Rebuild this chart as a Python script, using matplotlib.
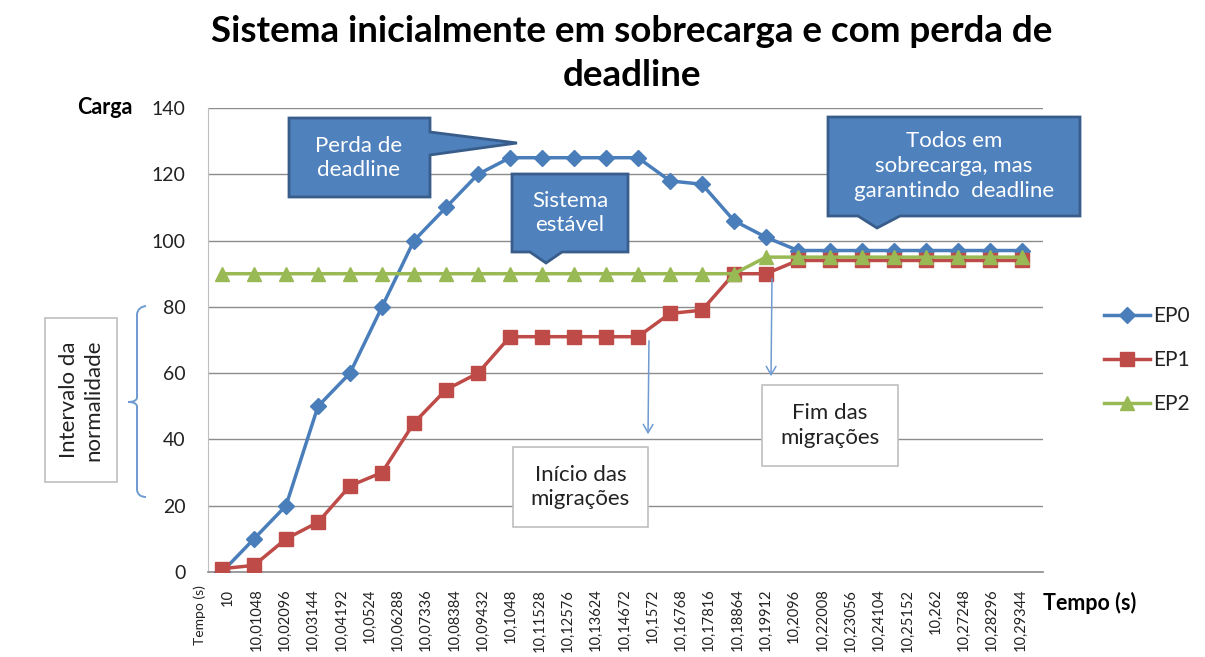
import matplotlib
matplotlib.use("Agg")
import matplotlib.pyplot as plt
from matplotlib.patches import Polygon, Rectangle, PathPatch, FancyArrowPatch
from matplotlib.path import Path

plt.rcParams['font.family'] = ['Lato', 'DejaVu Sans']

# category labels shown on the time axis (first one is the header cell "Tempo (s)")
tick_labels = ["Tempo (s)", "10", "10,01048", "10,02096", "10,03144", "10,04192", "10,0524",
               "10,06288", "10,07336", "10,08384", "10,09432", "10,1048", "10,11528",
               "10,12576", "10,13624", "10,14672", "10,1572", "10,16768", "10,17816",
               "10,18864", "10,19912", "10,2096", "10,22008", "10,23056", "10,24104",
               "10,25152", "10,262", "10,27248", "10,28296", "10,29344"]
ep0 = [0, 10, 20, 50, 60, 80, 100, 110, 120, 125, 125, 125, 125, 125,
       118, 117, 106, 101, 97, 97, 97, 97, 97, 97, 97, 97]
ep1 = [1, 2, 10, 15, 26, 30, 45, 55, 60, 71, 71, 71, 71, 71,
       78, 79, 90, 90, 94, 94, 94, 94, 94, 94, 94, 94]
ep2 = [90, 90, 90, 90, 90, 90, 90, 90, 90, 90, 90, 90, 90, 90,
       90, 90, 90, 95, 95, 95, 95, 95, 95, 95, 95, 95]
yticks = [0, 20, 40, 60, 80, 100, 120, 140]

W, H = 1205, 657
fig = plt.figure(figsize=(W / 100, H / 100), dpi=100)

def fx(x):
    return x / W

def fy(y):
    return 1 - y / H

AX_L, AX_R, AX_B, AX_T = 208, 1043, 572, 108
ax = fig.add_axes([fx(AX_L), fy(AX_B), fx(AX_R) - fx(AX_L), fy(AX_T) - fy(AX_B)])
x = list(range(len(ep0)))
c0, c1, c2 = '#4A7EBB', '#BE4B48', '#98B954'
ax.plot(x, ep0, color=c0, lw=2.5, marker='D', ms=8, label='EP0', zorder=3)
ax.plot(x, ep1, color=c1, lw=2.5, marker='s', ms=10.5, label='EP1', zorder=4)
ax.plot(x, ep2, color=c2, lw=2.5, marker='^', ms=10, label='EP2', zorder=5)

ax.set_xticks([])
# data points: first at px 222, spacing 32 px
ax.set_xlim(-(222 - AX_L) / 32, (AX_R - 222) / 32)
ax.set_ylim(0, 140)
ax.set_yticks(yticks)
ax.tick_params(axis='y', length=0, pad=16, labelsize=14)
ax.yaxis.grid(True, color='#8C8C8C', lw=1)
ax.set_axisbelow(True)
for s in ['top', 'right']:
    ax.spines[s].set_visible(False)
ax.spines['left'].set_color('#BFBFBF')
ax.spines['bottom'].set_color('#8C8C8C')
ax.spines['bottom'].set_linewidth(1.2)
for t in ax.get_yticklabels():
    t.set_color('#222222')

# category label axis: label 0 at px 199.7, spacing 28.3 px
ax2 = ax.twiny()
ax2.xaxis.set_ticks_position('bottom')
ax2.xaxis.set_label_position('bottom')
ax2.set_xticks(range(1, len(tick_labels)))
ax2.set_xticklabels(tick_labels[1:], rotation=90, fontsize=10.5, color='#222222')
ax2.set_xlim((AX_L - 199.7) / 28.3, (AX_R - 199.7) / 28.3)
ax2.tick_params(axis='x', length=0, pad=12)
for s in ax2.spines.values():
    s.set_visible(False)
# header label lies left of the plot area
fig.text(fx(199.7), fy(585), tick_labels[0], ha='center', va='top', rotation=90,
         fontsize=10, color='#222222')

fig.text(fx(632), fy(32), "Sistema inicialmente em sobrecarga e com perda de",
         ha='center', va='center', fontsize=26.5, fontweight='bold')
fig.text(fx(632), fy(76), "deadline",
         ha='center', va='center', fontsize=26.5, fontweight='bold')
fig.text(fx(105), fy(108), "Carga", ha='center', va='center', fontsize=15.5, fontweight='bold')
fig.text(fx(1090), fy(603), "Tempo (s)", ha='center', va='center', fontsize=15.5, fontweight='bold')

h, l = ax.get_legend_handles_labels()
leg = fig.legend(h, l, loc='center left', bbox_to_anchor=(fx(1094), fy(360)), frameon=False,
                 fontsize=15, handlelength=2.2, labelspacing=1.15, handletextpad=0.15,
                 borderpad=0)
for t in leg.get_texts():
    t.set_color('#222222')

blue_fill, blue_edge = '#4F81BD', '#385D8A'

def callout(pts, text, cx, cy):
    poly = Polygon([(fx(px), fy(py)) for px, py in pts], closed=True,
                   transform=fig.transFigure, facecolor=blue_fill, edgecolor=blue_edge,
                   lw=2, zorder=10)
    fig.patches.append(poly)
    fig.text(fx(cx), fy(cy), text, ha='center', va='center', color='white',
             fontsize=16, zorder=11, linespacing=1.3)

callout([(289, 118), (430, 118), (430, 132), (517, 143), (430, 155), (430, 197), (289, 197)],
        "Perda de\ndeadline", 359, 158)
callout([(512, 174), (628, 174), (628, 252), (562, 252), (546, 263), (530, 252), (512, 252)],
        "Sistema\nestável", 570, 213)
callout([(828, 117), (1080, 117), (1080, 216), (900, 216), (877, 228), (858, 216), (828, 216)],
        "Todos em\nsobrecarga, mas\ngarantindo  deadline", 954, 166)

def whitebox(x0, y0, x1, y1, text, rot=0):
    r = Rectangle((fx(x0), fy(y1)), fx(x1) - fx(x0), fy(y0) - fy(y1), transform=fig.transFigure,
                  facecolor='white', edgecolor='#BFBFBF', lw=1.2, zorder=10)
    fig.patches.append(r)
    fig.text(fx((x0 + x1) / 2), fy((y0 + y1) / 2), text, ha='center', va='center',
             fontsize=16, color='#222222', rotation=rot, zorder=11, linespacing=1.3)

whitebox(513, 447, 648, 527, "Início das\nmigrações")
whitebox(762, 385, 898, 466, "Fim das\nmigrações")
whitebox(45, 318, 117, 482, "Intervalo da\nnormalidade", rot=90)

for (xa, ya0, ya1) in [(649, 338, 437), (772, 276, 379)]:
    fig.add_artist(FancyArrowPatch(
        (fx(xa), fy(ya0)), (fx(xa - 1), fy(ya1)), transform=fig.transFigure,
        arrowstyle='->,head_length=6,head_width=3.5', color='#6F9BD1', lw=1.1, zorder=12))

verts = [(146, 306), (138, 307), (137, 314), (137, 398), (136, 402), (128, 402),
         (136, 402), (137, 406), (137, 490), (138, 497), (146, 497)]
codes = [Path.MOVETO, Path.CURVE3, Path.CURVE3, Path.LINETO, Path.CURVE3, Path.CURVE3,
         Path.CURVE3, Path.CURVE3, Path.LINETO, Path.CURVE3, Path.CURVE3]
bp = PathPatch(Path([(fx(a), fy(b)) for a, b in verts], codes), transform=fig.transFigure,
               facecolor='none', edgecolor='#6F9BD1', lw=1.4)
fig.patches.append(bp)

fig.savefig('out.png', dpi=100, facecolor='white')
